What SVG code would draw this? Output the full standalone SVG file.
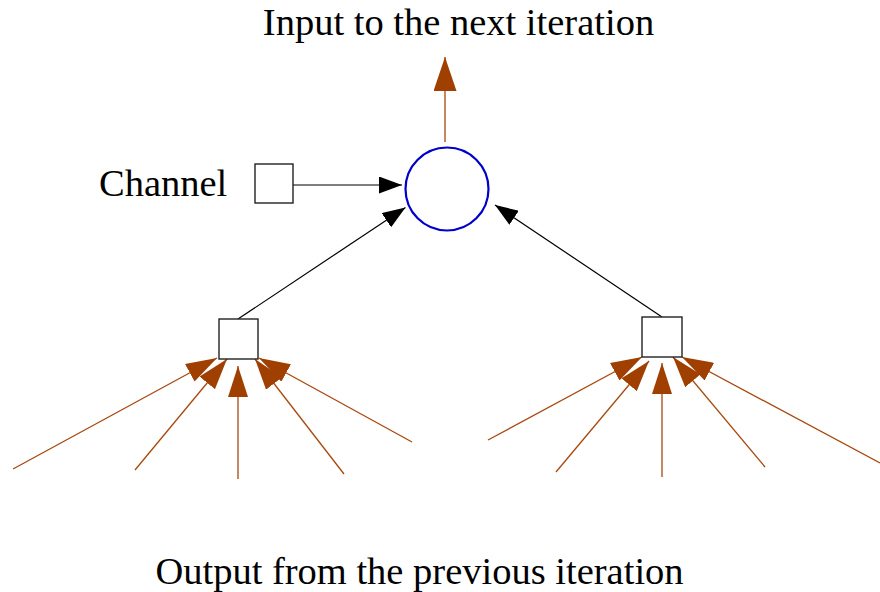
<svg xmlns="http://www.w3.org/2000/svg" width="880" height="592" viewBox="0 0 880 592">
  <style>
    .lbl { font-family: "Liberation Serif", "Times New Roman", serif; font-size: 38.5px; fill: #000; }
    .box { fill: #fff; stroke: #222; stroke-width: 1.4; }
    .feed { stroke: #a8480e; stroke-width: 1.3; fill: none; marker-end: url(#brown); }
    .link { stroke: #000; stroke-width: 1.2; fill: none; marker-end: url(#black); }
  </style>
  <defs>
    <marker id="brown" markerUnits="userSpaceOnUse" markerWidth="31" markerHeight="20" refX="31" refY="10" orient="auto">
      <path d="M31,10 L0,0 L0,20 Z" fill="#a04000"/>
    </marker>
    <marker id="brownBig" markerUnits="userSpaceOnUse" markerWidth="34" markerHeight="23" refX="34" refY="11.5" orient="auto">
      <path d="M34,11.5 L0,0 L0,23 Z" fill="#a04000"/>
    </marker>
    <marker id="black" markerUnits="userSpaceOnUse" markerWidth="23" markerHeight="17" refX="23" refY="8.5" orient="auto">
      <path d="M23,8.5 L0,0 L0,17 Z" fill="#000"/>
    </marker>
  </defs>

  <!-- labels -->
  <text class="lbl" x="458.5" y="35" text-anchor="middle">Input to the next iteration</text>
  <text class="lbl" x="419.5" y="584" text-anchor="middle">Output from the previous iteration</text>
  <text class="lbl" x="99" y="196">Channel</text>

  <!-- connectors -->
  <g id="connectors">
    <line x1="445" y1="142" x2="445" y2="57" stroke="#a8480e" stroke-width="1.3" marker-end="url(#brownBig)"/>
    <line class="link" x1="293" y1="185" x2="402" y2="185"/>
    <line class="link" x1="238" y1="319" x2="405.5" y2="207.5"/>
    <line class="link" x1="662" y1="317" x2="495" y2="205"/>

    <!-- inputs to left check node -->
    <line class="feed" x1="13" y1="469" x2="217" y2="358"/>
    <line class="feed" x1="135" y1="470" x2="227" y2="359"/>
    <line class="feed" x1="238" y1="479" x2="238" y2="366"/>
    <line class="feed" x1="344" y1="474" x2="255" y2="359"/>
    <line class="feed" x1="412" y1="442" x2="259" y2="358"/>

    <!-- inputs to right check node -->
    <line class="feed" x1="488" y1="440" x2="642" y2="357"/>
    <line class="feed" x1="556" y1="472" x2="649" y2="361"/>
    <line class="feed" x1="662" y1="477" x2="662" y2="363"/>
    <line class="feed" x1="765" y1="467" x2="673" y2="357"/>
    <line class="feed" x1="880" y1="463" x2="682" y2="357"/>
  </g>

  <!-- nodes -->
  <g id="variable-node">
    <circle cx="447" cy="189" r="41.5" fill="#fff" stroke="#0000cc" stroke-width="2.2"/>
  </g>
  <g id="channel-node">
    <rect class="box" x="255" y="164" width="38" height="39"/>
  </g>
  <g id="check-left">
    <rect class="box" x="219" y="319" width="39" height="40"/>
  </g>
  <g id="check-right">
    <rect class="box" x="642" y="317" width="40" height="40"/>
  </g>
</svg>
